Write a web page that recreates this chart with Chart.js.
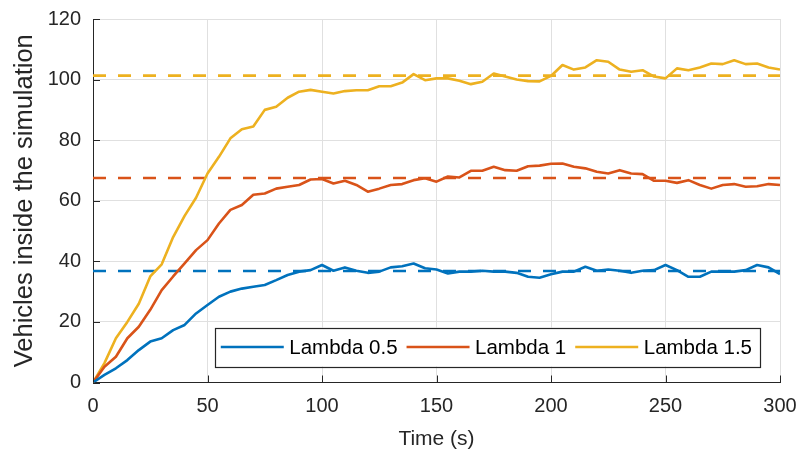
<!DOCTYPE html>
<html>
<head>
<meta charset="utf-8">
<script src="https://cdn.jsdelivr.net/npm/chart.js@4.4.1/dist/chart.umd.min.js"></script>
<style>
  html, body { margin: 0; padding: 0; background: #fff; }
  #wrap { width: 798px; height: 456px; position: relative; }
</style>
</head>
<body>
<div id="wrap"><canvas id="chart"></canvas></div>
<script>
// Время (с)
const times = [
  0, 5, 10, 15, 20, 25, 30, 35, 40, 45, 50, 55, 60, 65, 70, 75, 80, 85, 90, 95,
  100, 105, 110, 115, 120, 125, 130, 135, 140, 145, 150, 155, 160, 165, 170, 175, 180, 185, 190, 195,
  200, 205, 210, 215, 220, 225, 230, 235, 240, 245, 250, 255, 260, 265, 270, 275, 280, 285, 290, 295, 300
];

// Число машин в симуляции
const lambda05 = [
  0, 2.5, 4.7, 7.4, 10.7, 13.5, 14.6, 17.3, 19, 22.8, 25.6, 28.3, 30, 31, 31.6, 32.2, 33.8, 35.5, 36.6, 37.1,
  38.8, 36.9, 38, 36.9, 36.2, 36.6, 38, 38.4, 39.3, 37.7, 37.3, 36, 36.6, 36.6, 36.9, 36.6, 36.6, 36.2, 34.9, 34.6,
  35.7, 36.6, 36.6, 38.2, 36.9, 37.3, 36.9, 36.2, 36.9, 37.1, 38.8, 37.1, 34.9, 34.9, 36.6, 36.6, 36.6, 37.1, 38.8, 38, 35.8
];
const lambda1 = [
  0, 5.2, 8.5, 14.6, 18.4, 24, 30.5, 35, 39.3, 43.7, 47, 52.5, 57, 58.6, 62, 62.4, 64, 64.6, 65.2, 67,
  67.2, 65.7, 66.6, 65.2, 63, 64, 65.2, 65.5, 66.8, 67.4, 66.3, 68, 67.7, 69.9, 69.9, 71.2, 70.1, 69.9, 71.4, 71.6,
  72.2, 72.3, 71.2, 70.7, 69.6, 69, 70.1, 69, 68.8, 66.6, 66.6, 65.9, 66.8, 65.2, 64, 65.2, 65.5, 64.6, 64.8, 65.5, 65.2
];
const lambda15 = [
  0, 6.4, 14.6, 20, 26, 35, 39, 48, 55, 61, 69, 74.5, 80.6, 83.6, 84.5, 90, 91, 94, 96, 96.6,
  96, 95.4, 96.2, 96.5, 96.5, 97.8, 97.8, 99, 101.8, 99.8, 100.4, 100.4, 99.6, 98.5, 99.3, 102, 101, 100, 99.5, 99.4,
  101.2, 104.8, 103.3, 104, 106.4, 105.9, 103.3, 102.6, 103.1, 101, 100.4, 103.7, 103.1, 104, 105.3, 105.1, 106.4, 105.1, 105.3, 104, 103.3
];

// Средние уровни (пунктир)
const meanLevels = [36.8, 67.5, 101.3];

const seriesNames = ['Lambda 0.5', 'Lambda 1', 'Lambda 1.5'];
const seriesColors = ['#0072BD', '#D95319', '#EDB120'];
const seriesValues = [lambda05, lambda1, lambda15];

const xTicks = [0, 50, 100, 150, 200, 250, 300];
const yTicks = [0, 20, 40, 60, 80, 100, 120];

const FONT = "'Liberation Sans', Arial, sans-serif";
const TEXT_COLOR = '#262626';

// Сборка наборов данных
const datasets = [];
seriesValues.forEach((vals, i) => {
  datasets.push({
    label: seriesNames[i],
    data: times.map((t, k) => ({ x: t, y: vals[k] })),
    borderColor: seriesColors[i],
    borderWidth: 2.6,
    pointRadius: 0,
    tension: 0,
    borderJoinStyle: 'round',
    order: 1
  });
});
meanLevels.forEach((m, i) => {
  datasets.push({
    label: 'mean ' + seriesNames[i],
    data: [{ x: times[0], y: m }, { x: times[times.length - 1], y: m }],
    borderColor: seriesColors[i],
    borderWidth: 2.6,
    borderDash: [13, 12],
    pointRadius: 0,
    order: 2
  });
});

// Внутренние засечки на осях
const innerTicks = {
  id: 'innerTicks',
  afterDraw(chart) {
    const { ctx, chartArea, scales } = chart;
    ctx.save();
    ctx.strokeStyle = TEXT_COLOR;
    ctx.lineWidth = 1;
    ctx.beginPath();
    xTicks.forEach(v => {
      const x = Math.round(scales.x.getPixelForValue(v)) + 0.5;
      ctx.moveTo(x, chartArea.bottom);
      ctx.lineTo(x, chartArea.bottom - 7);
    });
    yTicks.forEach(v => {
      const y = Math.round(scales.y.getPixelForValue(v)) + 0.5;
      ctx.moveTo(chartArea.left, y);
      ctx.lineTo(chartArea.left + 7, y);
    });
    ctx.stroke();
    ctx.restore();
  }
};

// Легенда внутри графика
const boxLegend = {
  id: 'boxLegend',
  afterDraw(chart) {
    const { ctx, chartArea } = chart;
    ctx.save();
    ctx.font = '20.5px ' + FONT;
    const widths = seriesNames.map(n => ctx.measureText(n).width);
    const pad = 6, lineLen = 63, lineGap = 5.5, itemGap = 9, padR = 8;
    const total = pad + seriesNames.length * (lineLen + lineGap) + widths.reduce((a, b) => a + b, 0) + (seriesNames.length - 1) * itemGap + padR;
    const h = 39;
    const right = chartArea.right - 20;
    const bottom = chartArea.bottom - 16;
    const left = right - total;
    const top = bottom - h;
    ctx.fillStyle = '#fff';
    ctx.fillRect(left, top, total, h);
    ctx.strokeStyle = TEXT_COLOR;
    ctx.lineWidth = 1.2;
    ctx.strokeRect(Math.round(left) + 0.5, Math.round(top) + 0.5, Math.round(total), h);
    const cy = top + h / 2;
    let x = left + pad;
    seriesNames.forEach((n, i) => {
      ctx.strokeStyle = seriesColors[i];
      ctx.lineWidth = 2.6;
      ctx.beginPath();
      ctx.moveTo(x, cy);
      ctx.lineTo(x + lineLen, cy);
      ctx.stroke();
      x += lineLen + lineGap;
      ctx.fillStyle = '#000';
      ctx.textBaseline = 'middle';
      ctx.fillText(n, x, cy + 1);
      x += widths[i] + itemGap;
    });
    ctx.restore();
  }
};

new Chart(document.getElementById('chart'), {
  type: 'line',
  data: { datasets },
  options: {
    responsive: true,
    maintainAspectRatio: false,
    animation: false,
    layout: { padding: { top: 19, right: 18, left: 0, bottom: 0 } },
    plugins: {
      legend: { display: false },
      tooltip: { enabled: false }
    },
    scales: {
      x: {
        type: 'linear',
        min: 0,
        max: 300,
        afterBuildTicks: s => { s.ticks = xTicks.map(v => ({ value: v })); },
        afterFit: s => { s.height = 73.5; s.paddingLeft = 0; s.paddingRight = 0; },
        grid: { color: '#e0e0e0', lineWidth: 1, drawTicks: false },
        border: { color: TEXT_COLOR, width: 1 },
        ticks: { color: TEXT_COLOR, font: { family: FONT, size: 20 }, padding: 12, maxRotation: 0 },
        title: { display: true, text: 'Time (s)', color: TEXT_COLOR, font: { family: FONT, size: 21 }, padding: { top: 0, bottom: 4 } }
      },
      y: {
        min: 0,
        max: 120,
        afterBuildTicks: s => { s.ticks = yTicks.map(v => ({ value: v })); },
        afterFit: s => { s.width = 93; s.paddingTop = 0; s.paddingBottom = 0; },
        grid: { color: '#e0e0e0', lineWidth: 1, drawTicks: false },
        border: { color: TEXT_COLOR, width: 1 },
        ticks: { color: TEXT_COLOR, font: { family: FONT, size: 20 }, padding: 12 },
        title: { display: true, text: 'Vehicles inside the simulation', color: TEXT_COLOR, font: { family: FONT, size: 25.5 }, padding: { top: 10, bottom: 0 } }
      }
    }
  },
  plugins: [innerTicks, boxLegend]
});
</script>
</body>
</html>
